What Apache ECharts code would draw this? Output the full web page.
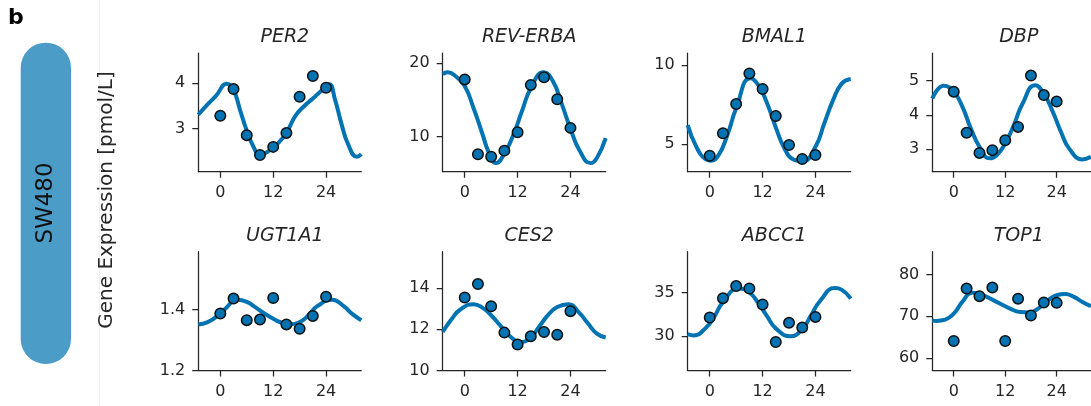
<!DOCTYPE html>
<html>
<head>
<meta charset="utf-8">
<script src="https://cdn.jsdelivr.net/npm/echarts@6.0.0/dist/echarts.min.js"></script>
<style>
  html, body { margin: 0; padding: 0; background: #fff; }
  #main { width: 1091px; height: 406px; }
</style>
</head>
<body>
<div id="main"></div>
<script>
'use strict';

// sampling times (h)
const sampleHours = [0, 3, 6, 9, 12, 15, 18, 21, 24];
const hourTicks = [0, 12, 24];

const geneNames = ['PER2', 'REV-ERBA', 'BMAL1', 'DBP', 'UGT1A1', 'CES2', 'ABCC1', 'TOP1'];

// measured points
const per2Points = [3.28, 3.87, 2.85, 2.41, 2.59, 2.90, 3.70, 4.16, 3.90];
const revErbaPoints = [17.8, 7.6, 7.27, 8.1, 10.6, 17.05, 18.1, 15.1, 11.2];
const bmal1Points = [4.26, 5.68, 7.53, 9.47, 8.48, 6.77, 4.94, 4.05, 4.30];
const dbpPoints = [4.68, 3.48, 2.89, 2.97, 3.26, 3.65, 5.15, 4.58, 4.39];
const ugt1a1Points = [1.387, 1.436, 1.365, 1.367, 1.438, 1.351, 1.337, 1.379, 1.442];
const ces2Points = [13.53, 14.18, 13.11, 11.83, 11.25, 11.65, 11.86, 11.73, 12.87];
const abcc1Points = [32.14, 34.35, 35.73, 35.46, 33.63, 29.35, 31.53, 30.99, 32.21];
const top1Points = [64.1, 76.6, 74.8, 76.85, 64.1, 74.2, 70.2, 73.3, 73.2];

// fitted curves (hours, values)
const per2CurveHours = [-5, -3, -1, 1.5, 3, 4.5, 6, 7.5, 9, 11, 13, 15, 17, 19, 21, 23, 24.7, 26, 27.5, 29, 31, 32];
const per2Curve = [3.30, 3.52, 3.72, 3.99, 3.85, 3.40, 2.95, 2.60, 2.41, 2.50, 2.66, 2.90, 3.27, 3.49, 3.66, 3.84, 3.98, 3.65, 3.10, 2.65, 2.37, 2.43];

const revErbaCurveHours = [-5, -3.9, -2, 0, 2, 4, 5.5, 7.1, 9, 11, 13, 15, 17.9, 20, 22, 24, 26, 28.6, 30, 32];
const revErbaCurve = [18.5, 18.77, 18.2, 16.9, 13.9, 10.4, 7.8, 6.4, 7.7, 10.2, 13.5, 16.6, 18.77, 17.6, 14.5, 11.1, 8.2, 6.4, 7.1, 9.8];

const bmal1CurveHours = [-5, -3, -1, 0.2, 2, 4, 6, 9.2, 11, 13, 15, 17, 19, 21, 24, 26, 28, 30, 32];
const bmal1Curve = [6.2, 4.8, 4.05, 3.95, 4.3, 5.57, 7.26, 9.16, 8.75, 7.6, 6.05, 4.7, 4.02, 3.9, 4.83, 6.31, 7.78, 8.84, 9.12];

const dbpCurveHours = [-5, -2.3, 0, 2, 4, 6, 8.4, 10, 12, 14, 16, 19, 21, 23, 25, 27, 30, 32];
const dbpCurve = [4.48, 4.85, 4.68, 4.24, 3.6, 3.07, 2.73, 2.82, 3.17, 3.70, 4.32, 4.87, 4.62, 4.12, 3.5, 3.0, 2.70, 2.78];

const ugt1a1CurveHours = [-5, -3, -1, 1, 3.9, 6, 8, 10, 12, 13.5, 15.6, 18, 20, 22, 25.4, 28, 30, 32];
const ugt1a1Curve = [1.351, 1.358, 1.375, 1.401, 1.432, 1.425, 1.407, 1.387, 1.370, 1.359, 1.352, 1.359, 1.381, 1.411, 1.432, 1.411, 1.385, 1.365];

const ces2CurveHours = [-5, -3, -1, 2, 4, 6, 8, 10, 12.9, 15, 17, 19, 21, 23.5, 26, 28, 30, 32];
const ces2Curve = [11.86, 12.48, 12.95, 13.21, 13.04, 12.67, 12.19, 11.70, 11.38, 11.60, 12.15, 12.70, 13.07, 13.21, 12.79, 12.27, 11.78, 11.59];

const abcc1CurveHours = [-5, -3.6, -1, 1, 3, 6.6, 9, 11, 13, 15, 18.3, 21, 23, 25, 28.4, 30, 32];
const abcc1Curve = [30.25, 30.1, 30.9, 32.2, 33.9, 35.46, 35.0, 33.8, 32.3, 30.9, 30.0, 30.8, 32.4, 34.0, 35.5, 35.3, 34.3];

const top1CurveHours = [-5, -4, -2, 0, 2, 4.3, 7, 10, 13, 15.5, 17.5, 20, 22, 24, 26, 28, 30, 32];
const top1Curve = [69.04, 68.9, 69.2, 70.64, 73.43, 75.6, 74.9, 73.43, 71.9, 71.0, 70.9, 72.07, 73.82, 75.02, 75.3, 74.62, 73.43, 72.39];

// y ranges and tick labels
const yRanges = [[2.04, 4.67], [5.23, 21.4], [3.25, 10.76], [2.34, 5.81], [1.2, 1.59], [10, 15.75], [26.1, 39.66], [57.1, 85.4]];
const yTickValues = [[3, 4], [10, 20], [5, 10], [3, 4, 5], [1.2, 1.4], [10, 12, 14], [30, 35], [60, 70, 80]];

const pointSets = [per2Points, revErbaPoints, bmal1Points, dbpPoints, ugt1a1Points, ces2Points, abcc1Points, top1Points];
const curveHourSets = [per2CurveHours, revErbaCurveHours, bmal1CurveHours, dbpCurveHours, ugt1a1CurveHours, ces2CurveHours, abcc1CurveHours, top1CurveHours];
const curveSets = [per2Curve, revErbaCurve, bmal1Curve, dbpCurve, ugt1a1Curve, ces2Curve, abcc1Curve, top1Curve];

const colLeft = [198.3, 442.7, 687.7, 932.3];
const rowTop = [53, 251.7];
const panelW = 163;
const panelH = 118.7;

const FONT = 'DejaVu Sans';
const INK = '#262626';
const BLUE = '#0173b2';

const grids = [], xAxes = [], yAxes = [], series = [], titles = [];

geneNames.forEach(function (name, i) {
    const left = colLeft[i % 4];
    const top = rowTop[Math.floor(i / 4)];
    grids.push({ left: left, top: top, width: panelW, height: panelH, containLabel: false });
    const axisLine = { show: true, onZero: false, lineStyle: { color: INK, width: 1.25 } };
    xAxes.push({
        gridIndex: i, type: 'value', min: -5, max: 32,
        axisLine: axisLine,
        axisTick: { show: true, length: 6, customValues: hourTicks, lineStyle: { color: INK, width: 1.25 } },
        axisLabel: { customValues: hourTicks, fontSize: 16, color: INK, margin: 13, fontFamily: FONT },
        splitLine: { show: false }
    });
    yAxes.push({
        gridIndex: i, type: 'value', min: yRanges[i][0], max: yRanges[i][1],
        axisLine: axisLine,
        axisTick: { show: true, length: 6, customValues: yTickValues[i], lineStyle: { color: INK, width: 1.25 } },
        axisLabel: { customValues: yTickValues[i], fontSize: 16, color: INK, margin: 13, fontFamily: FONT },
        splitLine: { show: false }
    });
    series.push({
        type: 'line', xAxisIndex: i, yAxisIndex: i, smooth: 0.5, showSymbol: false, z: 2,
        lineStyle: { width: 4, color: BLUE },
        data: curveHourSets[i].map(function (h, k) { return [h, curveSets[i][k]]; })
    });
    series.push({
        type: 'scatter', xAxisIndex: i, yAxisIndex: i, symbolSize: 10.5, z: 3,
        itemStyle: { color: BLUE, borderColor: '#111', borderWidth: 1.5, opacity: 1 },
        data: sampleHours.map(function (h, k) { return [h, pointSets[i][k]]; })
    });
    titles.push({
        text: name, left: left + panelW / 2, top: top - 30, textAlign: 'center',
        textStyle: { fontSize: 19, fontStyle: 'italic', fontWeight: 'normal', color: INK, fontFamily: FONT }
    });
});

const graphics = [
    { type: 'line', shape: { x1: 99.5, y1: 0, x2: 99.5, y2: 406 }, style: { stroke: '#f0f0f0', lineWidth: 1 } },
    { type: 'rect', shape: { x: 20.7, y: 42.7, width: 50.3, height: 321.3, r: 25 }, style: { fill: '#4c9cc8' } },
    { type: 'text', x: 46, y: 203, rotation: Math.PI / 2,
      style: { text: 'SW480', align: 'center', verticalAlign: 'middle', fontSize: 23, fill: '#111', fontFamily: FONT } },
    { type: 'text', x: 8, y: 18, style: { text: 'b', verticalAlign: 'middle', fontSize: 22, fontWeight: 'bold', fill: '#000', fontFamily: FONT } },
    { type: 'text', x: 107, y: 200, rotation: Math.PI / 2,
      style: { text: 'Gene Expression [pmol/L]', align: 'center', verticalAlign: 'middle', fontSize: 20, fill: INK, fontFamily: FONT } }
];

window.onload = function () {
    const chart = echarts.init(document.getElementById('main'), null, { renderer: 'canvas' });
    chart.setOption({
        animation: false,
        backgroundColor: '#fff',
        title: titles,
        grid: grids,
        xAxis: xAxes,
        yAxis: yAxes,
        series: series,
        graphic: graphics
    });
};
</script>
</body>
</html>
